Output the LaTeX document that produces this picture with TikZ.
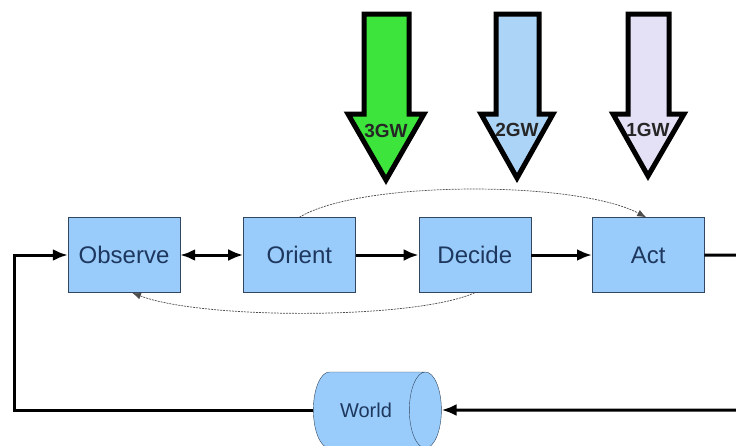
\documentclass[tikz,border=0pt]{standalone}
\usepackage{fontspec}
\setmainfont{Liberation Sans}
\usepackage{tikz}
\usetikzlibrary{positioning, shapes.geometric, arrows.meta}
\definecolor{boxblue}{RGB}{153,204,250}
\definecolor{boxline}{RGB}{50,70,95}
\definecolor{boxtext}{RGB}{30,55,95}
\definecolor{gwgreen}{RGB}{60,228,60}
\definecolor{gwblue}{RGB}{172,212,246}
\definecolor{gwlilac}{RGB}{228,224,246}

\begin{document}
\begin{tikzpicture}[x=1pt, y=1pt, node distance=63pt,
  phase/.style={draw=boxline, fill=boxblue, minimum width=112pt, minimum height=75pt, font=\fontsize{24}{27}\selectfont, text=boxtext},
  loopline/.style={line width=3pt, -{Latex[length=15pt, width=12pt]}},
  backline/.style={draw=black!70, line width=0.7pt, dash pattern=on 2pt off 1pt, -{Latex[length=9pt, width=7pt]}},
  gwarrow/.style={draw=black, line width=5pt, line join=miter},
  gwlabel/.style={font=\bfseries\fontsize{19}{21}\selectfont, text=black!85}]
  \useasboundingbox (0,0) rectangle (736,-445);

  \node[phase] (Obs) at (124,-255) {Observe};
  \node[phase, right = of Obs] (Ori) {Orient};
  \node[phase, right = of Ori] (Dec) {Decide};
  \node[phase, right = 61pt of Dec] (Act) {Act};
  \node[draw=boxline, fill=boxblue, cylinder, aspect=1.5, minimum width=76pt, minimum height=128pt, font=\fontsize{20}{22}\selectfont, text=boxtext] (W) at (366,-410) {World};

  \coordinate (L) at (14,-255);
  \coordinate (R) at (746,-410);

  % the loop
  \draw[line width=3pt, {Latex[length=15pt, width=12pt]}-{Latex[length=15pt, width=12pt]}] (Obs) -- (Ori);
  \draw[loopline] (Ori) -- (Dec);
  \draw[loopline] (Dec) -- (Act);
  \draw[loopline] (Act.east) -| (R) -- (W.east);
  \draw[loopline] (W.west) -| (L) -- (Obs.west);

  % dashed feedback
  \draw[backline] (Ori.north) .. controls +(60,37) and +(-70,37) .. ([xshift=-2pt]Act.north);
  \draw[backline] (Dec.south) .. controls +(-60,-27) and +(70,-27) .. ([xshift=8pt]Obs.south);

  % generation arrows
  \draw[gwarrow, fill=gwgreen] (364,-14) -- (409,-14) -- (409,-114) -- (424,-114) -- (386,-180) -- (348,-114) -- (364,-114) -- cycle;
  \draw[gwarrow, fill=gwblue] (496,-14) -- (539,-14) -- (539,-114) -- (553,-114) -- (517,-178) -- (481,-114) -- (496,-114) -- cycle;
  \draw[gwarrow, fill=gwlilac] (628,-14) -- (669,-14) -- (669,-114) -- (684,-114) -- (648,-176) -- (613,-114) -- (628,-114) -- cycle;
  \node[gwlabel] (G3) at (386,-131) {3GW};
  \node[gwlabel] (G2) at (517,-130) {2GW};
  \node[gwlabel] (G1) at (648,-130) {1GW};
\end{tikzpicture}
\end{document}
